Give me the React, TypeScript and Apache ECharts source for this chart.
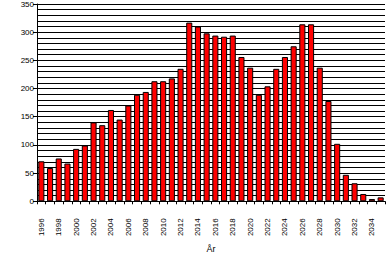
import React, { useEffect, useRef } from "react";
import * as echarts from "echarts";

const years: string[] = [];
for (let y = 1996; y <= 2035; y++) years.push(String(y));

const values = [
  71, 59, 76, 67, 93, 99, 140, 135, 162, 145,
  170, 189, 194, 213, 213, 218, 235, 317, 310, 298,
  294, 292, 294, 256, 237, 189, 204, 235, 256, 275,
  314, 314, 237, 178, 102, 47, 32, 13, 4, 7,
];

const axisName = "År";

export default function App() {
  const ref = useRef<HTMLDivElement>(null);
  useEffect(() => {
    document.body.style.margin = "0";
    const chart = echarts.init(ref.current!, null, { renderer: "svg" });
    const font = "Liberation Sans, Arial, sans-serif";
    chart.setOption({
      animation: false,
      backgroundColor: "#ffffff",
      grid: { left: 37, right: 1, top: 4, bottom: 52, containLabel: false },
      xAxis: {
        type: "category",
        data: years,
        name: axisName,
        nameLocation: "middle",
        nameGap: 40,
        nameTextStyle: { color: "#000", fontSize: 9, fontFamily: font },
        axisLine: { show: true, lineStyle: { color: "#000", width: 1 } },
        axisTick: { show: true, interval: 0, length: 3, lineStyle: { color: "#000" } },
        axisLabel: {
          interval: 1,
          rotate: 90,
          margin: 17,
          color: "#000",
          fontSize: 8,
          fontFamily: font,
        },
        splitLine: { show: false },
      },
      yAxis: {
        type: "value",
        min: 0,
        max: 350,
        interval: 50,
        axisLine: { show: true, lineStyle: { color: "#000", width: 1 } },
        axisTick: { show: true, length: 4, inside: false, lineStyle: { color: "#000" } },
        axisLabel: { color: "#000", fontSize: 8, fontFamily: font, margin: 3 },
        splitLine: { show: false },
        minorTick: { show: false, splitNumber: 5 },
        minorSplitLine: { show: true, lineStyle: { color: "#000", width: 1 } },
      },
      series: [
        {
          type: "bar",
          data: values,
          barCategoryGap: "30%",
          itemStyle: { color: "#ff0000", borderColor: "#000", borderWidth: 1 },
          z: 3,
        },
      ],
    });
    chart.setOption({
      yAxis: { splitLine: { show: true, lineStyle: { color: "#000", width: 1 } } },
    });
    return () => chart.dispose();
  }, []);
  return <div ref={ref} style={{ width: 386, height: 258 }} />;
}
